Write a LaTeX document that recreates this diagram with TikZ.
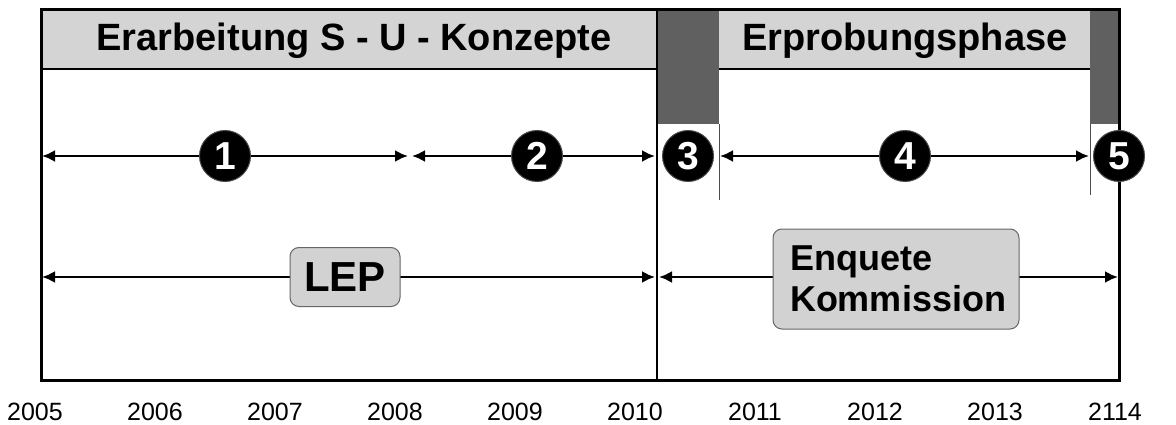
\documentclass[tikz,border=0pt]{standalone}
\usepackage{fontspec}
\setmainfont{Liberation Sans}
\usetikzlibrary{arrows.meta}
\definecolor{headgray}{HTML}{D4D4D4}
\definecolor{darkblock}{HTML}{606060}
\definecolor{boxgray}{HTML}{D2D2D2}
\tikzset{
  numdot/.style={circle,fill=black,draw=black!70,line width=1pt,minimum size=51pt,
    inner sep=0pt,text=white,font=\bfseries\fontsize{39}{39}\selectfont},
  span/.style={{Latex[length=13pt,width=12pt]}-{Latex[length=13pt,width=12pt]},line width=2.4pt},
  labelbox/.style={draw=black!60,line width=1pt,fill=boxgray,rounded corners=9pt},
  headtext/.style={font=\bfseries\fontsize{38}{38}\selectfont},
  yeartext/.style={font=\fontsize{25}{25}\selectfont}
}
\begin{document}
\begin{tikzpicture}[x=1pt,y=-1pt]
\useasboundingbox (0,0) rectangle (1176,425);
\fill[white] (0,0) rectangle (1176,425);

% Header
\fill[headgray] (41,10) rectangle (657,69);
\fill[headgray] (719,10) rectangle (1090,69);
\draw[line width=2.4pt] (41,69) -- (657,69) (719,69) -- (1090,69);
\node[headtext] (head1) at (354,41) {Erarbeitung S - U - Konzepte};
\node[headtext] (head2) at (905,41) {Erprobungsphase};

% dark blocks
\fill[darkblock] (657,10) rectangle (719,124);
\fill[darkblock] (1090,10) rectangle (1119,124);

% frame
\draw[line width=3pt] (41,10) rectangle (1119,380);
\draw[line width=2.4pt] (657,10) -- (657,380);

% ticks
\draw[line width=1pt,black!70] (719,124) -- (719,200);
\draw[line width=1pt,black!70] (1090,124) -- (1090,195);

% phases
\coordinate (p0) at (42,156);
\coordinate (p1) at (408,156);
\coordinate (p2) at (412,156);
\coordinate (p3) at (655,156);
\coordinate (p4) at (720,156);
\coordinate (p5) at (1089,156);
\draw[span] (p0) -- (p1);
\draw[span] (p2) -- (p3);
\draw[span] (p4) -- (p5);
\node[numdot] (n1) at (225,156) {1};
\node[numdot] (n2) at (537,156) {2};
\node[numdot] (n3) at (688,156) {3};
\node[numdot] (n4) at (905,156) {4};
\node[numdot] (n5) at (1119,156) {5};

% LEP, Enquete
\coordinate (q0) at (42,277);
\coordinate (q1) at (655,277);
\coordinate (q2) at (659,277);
\coordinate (q3) at (1118,277);
\draw[span] (q0) -- (q1);
\draw[span] (q2) -- (q3);
\node[labelbox,font=\bfseries\fontsize{42}{42}\selectfont,minimum width=110pt,minimum height=59pt,inner sep=0pt] (lep) at (345,277) {LEP};
\node[labelbox,font=\bfseries\fontsize{36}{41}\selectfont,text width=212pt,inner xsep=17pt,inner ysep=0pt,minimum height=100pt,align=left] (enq) at (896,279)
  {Enquete\\Kommission};

% years
\foreach \yr [count=\i from 0] in {2005,2006,2007,2008,2009,2010,2011,2012,2013,2114}
  \node[yeartext] (y\i) at (35+120*\i,412) {\yr};

\end{tikzpicture}
\end{document}
